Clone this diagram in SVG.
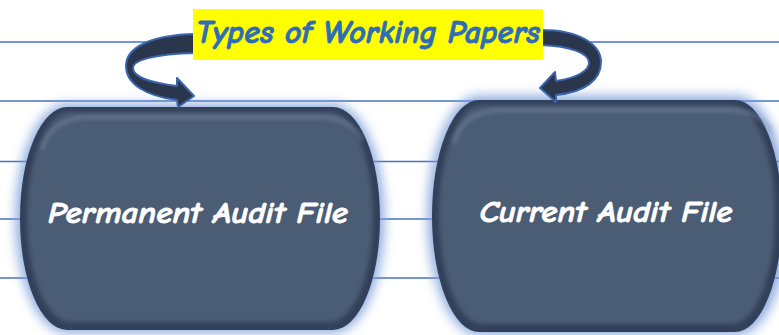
<svg xmlns="http://www.w3.org/2000/svg" width="779" height="335" viewBox="0 0 779 335">
<style>
.rule{stroke:#4472C4;stroke-width:1.3}
.glow{fill:#7C9FDA;opacity:0.9}
.edge{fill:#33405A}
.face{fill:#4B5B74}
.hl{fill:none;stroke:#8392A8;stroke-width:2.5;opacity:0.7}
.lbl{font-family:"Comic Sans MS","Comic Neue",Lato,sans-serif;font-weight:700;font-style:italic;fill:#FFFFFF;stroke:#FFFFFF;stroke-width:0.8;stroke-linejoin:round;font-size:30px}
.title{font-family:"Comic Sans MS","Comic Neue",Lato,sans-serif;font-weight:700;font-style:italic;fill:#2E6DB6;stroke:#2E6DB6;stroke-width:0.8;stroke-linejoin:round;font-size:32px}
.arrow{fill:#2A364C;stroke:#3A64AE;stroke-width:2;stroke-linejoin:round}
</style>
<defs>
<filter id="blur6" x="-20%" y="-20%" width="140%" height="140%"><feGaussianBlur stdDeviation="6"/></filter>
<filter id="blur2" x="-10%" y="-10%" width="120%" height="120%"><feGaussianBlur stdDeviation="2"/></filter>
</defs>
<rect width="779" height="335" fill="#FFFFFF"/>
<g id="rules">
<line class="rule" x1="0" y1="42" x2="779" y2="42"/>
<line class="rule" x1="0" y1="101" x2="779" y2="101"/>
<line class="rule" x1="0" y1="161.5" x2="779" y2="161.5"/>
<line class="rule" x1="0" y1="219" x2="779" y2="219"/>
<line class="rule" x1="0" y1="278" x2="779" y2="278"/>
</g>
<g id="node-permanent">
<rect class="glow" x="16" y="104" width="368" height="229" rx="51" ry="114" filter="url(#blur6)"/>
<rect class="edge" x="20" y="107" width="360" height="223" rx="47" ry="111"/>
<rect class="face" x="27" y="112" width="346" height="210" rx="43" ry="105" filter="url(#blur2)"/>
<path class="hl" d="M 42,150 Q 50,118 90,117 L 320,117 Q 352,118 362,140" filter="url(#blur2)"/>
<text class="lbl" x="198" y="223" text-anchor="middle" textLength="300" lengthAdjust="spacingAndGlyphs">Permanent Audit File</text>
</g>
<g id="node-current">
<rect class="glow" x="428" y="96" width="360" height="239" rx="51" ry="119" filter="url(#blur6)"/>
<rect class="edge" x="432" y="100" width="350" height="232" rx="47" ry="116"/>
<rect class="face" x="439" y="105" width="336" height="219" rx="43" ry="110" filter="url(#blur2)"/>
<path class="hl" d="M 454,143 Q 462,111 502,110 L 730,110 Q 762,111 772,133" filter="url(#blur2)"/>
<text class="lbl" x="606" y="222" text-anchor="middle" textLength="253" lengthAdjust="spacingAndGlyphs">Current Audit File</text>
</g>
<g id="connectors">
<path class="arrow" d="M 195,34 C 152,35 126,47 126,66 C 126,84 146,96 177,100 L 178,107 L 194,96 L 177,78 L 177,86 C 151,83 133,77 133,68 C 133,60 155,54 195,53 Z"/>
<path class="arrow" d="M 541,30 C 580,30 601,45 601,62 C 601,80 585,92 556,95 L 556,102 L 540,88 L 555,72 L 556,81 C 578,78 589,70 589,63 C 589,53 570,46 541,45 Z"/>
</g>
<g id="title">
<rect x="193" y="9" width="350" height="51" fill="#FFFF00"/>
<text class="title" x="368" y="43" text-anchor="middle" textLength="344" lengthAdjust="spacingAndGlyphs">Types of Working Papers</text>
</g>
</svg>
